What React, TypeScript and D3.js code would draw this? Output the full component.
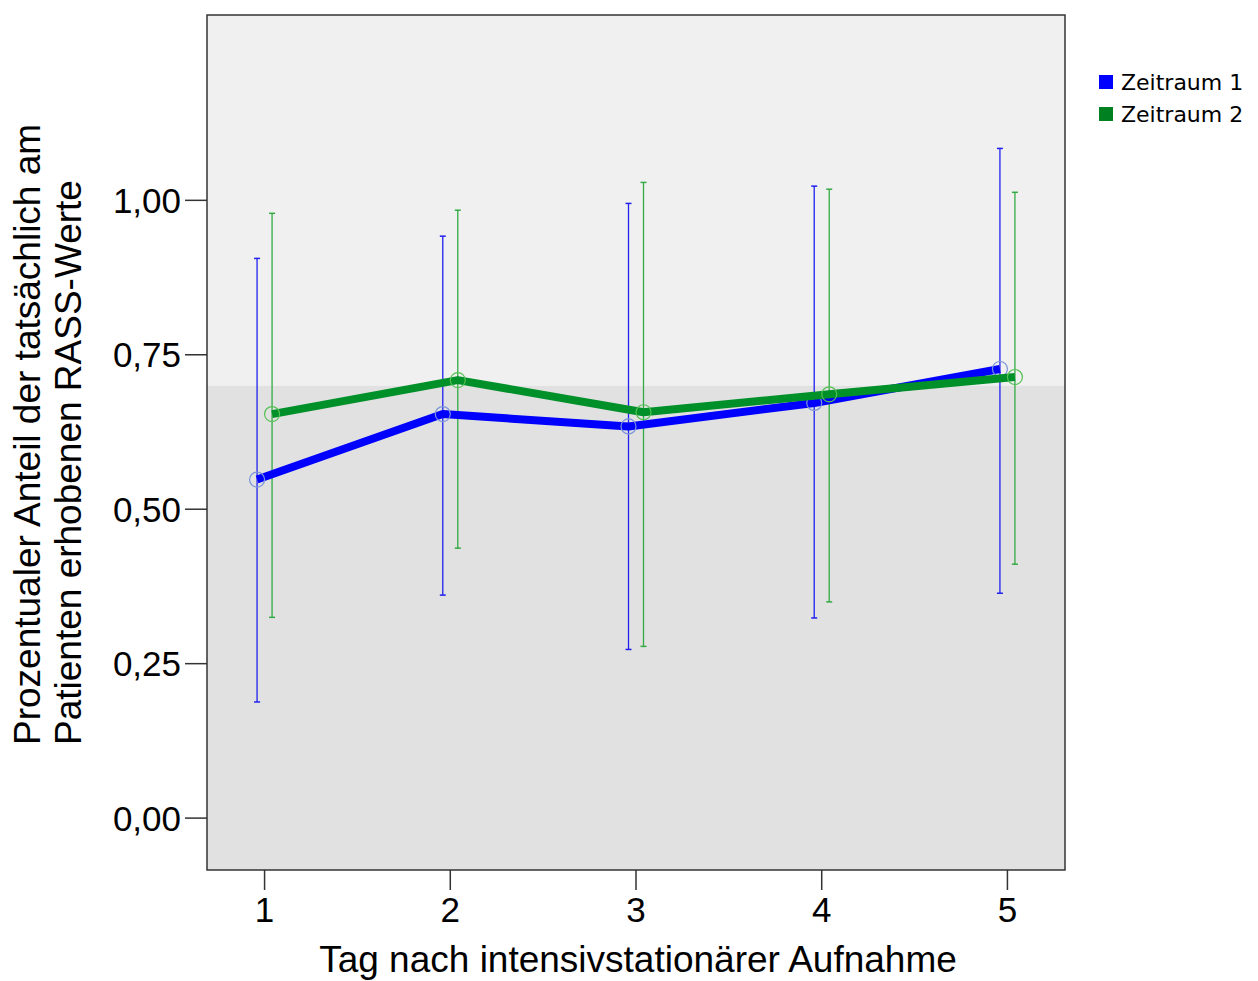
import React from "react";
import * as d3 from "d3";

const days = [1, 2, 3, 4, 5];
const seriesNames = ["Zeitraum 1", "Zeitraum 2"];
const mean1 = [0.548, 0.654, 0.634, 0.672, 0.727];
const lower1 = [0.188, 0.361, 0.273, 0.324, 0.364];
const upper1 = [0.906, 0.942, 0.995, 1.023, 1.084];
const mean2 = [0.654, 0.709, 0.657, 0.686, 0.714];
const lower2 = [0.325, 0.437, 0.278, 0.35, 0.411];
const upper2 = [0.979, 0.984, 1.029, 1.018, 1.013];
const yTicks = [0, 0.25, 0.5, 0.75, 1.0];
const refValue = 0.7;

const W = 1258;
const H = 981;
const plot = { left: 207, right: 1065, top: 15, bottom: 870 };

export default function App() {
  const x = d3.scaleLinear().domain([0.69, 5.31]).range([plot.left, plot.right]);
  const y = d3.scaleLinear().domain([-0.084, 1.3]).range([plot.bottom, plot.top]);
  const fmt = (v: number) => d3.format(".2f")(v).replace(".", ",");

  const series = [
    { name: seriesNames[0], mean: mean1, lo: lower1, hi: upper1, line: "#0000ff", bar: "#2020f0", circle: "#7a94d8", dx: -7.5 },
    { name: seriesNames[1], mean: mean2, lo: lower2, hi: upper2, line: "#00902a", bar: "#33aa44", circle: "#55c055", dx: 7.5 },
  ];

  return (
    <svg width={W} height={H} style={{ position: "absolute", left: 0, top: 0 }}>
      <rect x={0} y={0} width={W} height={H} fill="#ffffff" />
      <rect x={plot.left} y={plot.top} width={plot.right - plot.left} height={y(refValue) - plot.top} fill="#f0f0f0" />
      <rect x={plot.left} y={y(refValue)} width={plot.right - plot.left} height={plot.bottom - y(refValue)} fill="#e1e1e1" />

      {series.map((s) => (
        <g key={s.name}>
          {days.map((d, i) => (
            <g key={d}>
              <line x1={x(d) + s.dx} x2={x(d) + s.dx} y1={y(s.lo[i])} y2={y(s.hi[i])} stroke={s.bar} strokeWidth={1.3} />
              <line x1={x(d) + s.dx - 3} x2={x(d) + s.dx + 3} y1={y(s.lo[i])} y2={y(s.lo[i])} stroke={s.bar} strokeWidth={1.5} />
              <line x1={x(d) + s.dx - 3} x2={x(d) + s.dx + 3} y1={y(s.hi[i])} y2={y(s.hi[i])} stroke={s.bar} strokeWidth={1.5} />
            </g>
          ))}
        </g>
      ))}
      {series.map((s) => {
        const gen = d3
          .line<number>()
          .x((_, i) => x(days[i]) + s.dx)
          .y((d) => y(d));
        return (
          <g key={s.name + "l"}>
            <path d={gen(s.mean) || ""} fill="none" stroke={s.line} strokeWidth={8} strokeLinejoin="round" />
            {days.map((d, i) => (
              <circle key={d} cx={x(d) + s.dx} cy={y(s.mean[i])} r={7.5} fill="none" stroke={s.circle} strokeWidth={1.2} />
            ))}
          </g>
        );
      })}

      <rect x={plot.left} y={plot.top} width={plot.right - plot.left} height={plot.bottom - plot.top} fill="none" stroke="#333" strokeWidth={1.5} />

      <g fontFamily="Liberation Sans, Arial, sans-serif" fill="#000">
        {yTicks.map((t) => (
          <g key={t}>
            <line x1={plot.left - 22} x2={plot.left} y1={y(t)} y2={y(t)} stroke="#333" strokeWidth={1.5} />
            <text x={plot.left - 26} y={y(t)} dy="0.36em" textAnchor="end" fontSize={35}>{fmt(t)}</text>
          </g>
        ))}
        {days.map((d) => (
          <g key={d}>
            <line x1={x(d)} x2={x(d)} y1={plot.bottom} y2={plot.bottom + 20} stroke="#333" strokeWidth={1.5} />
            <text x={x(d)} y={plot.bottom + 52} textAnchor="middle" fontSize={35}>{d}</text>
          </g>
        ))}
        <text x={(plot.left + plot.right) / 2 + 2} y={972} textAnchor="middle" fontSize={37}>Tag nach intensivstationärer Aufnahme</text>
        <g transform="translate(40,745) rotate(-90)">
          <text x={0} y={0} textAnchor="start" fontSize={37}>Prozentualer Anteil der tatsächlich am</text>
          <text x={0} y={41} textAnchor="start" fontSize={37}>Patienten erhobenen RASS-Werte</text>
        </g>
      </g>

      <g fontFamily="DejaVu Sans, Verdana, sans-serif" fontSize={22} fill="#000">
        {series.map((s, i) => (
          <g key={s.name} transform={`translate(1099,${75 + i * 32})`}>
            <rect x={0} y={0} width={14} height={14} fill={i === 0 ? "#0000ff" : "#008020"} />
            <text x={22} y={7} dy="0.36em">{s.name}</text>
          </g>
        ))}
      </g>
    </svg>
  );
}
